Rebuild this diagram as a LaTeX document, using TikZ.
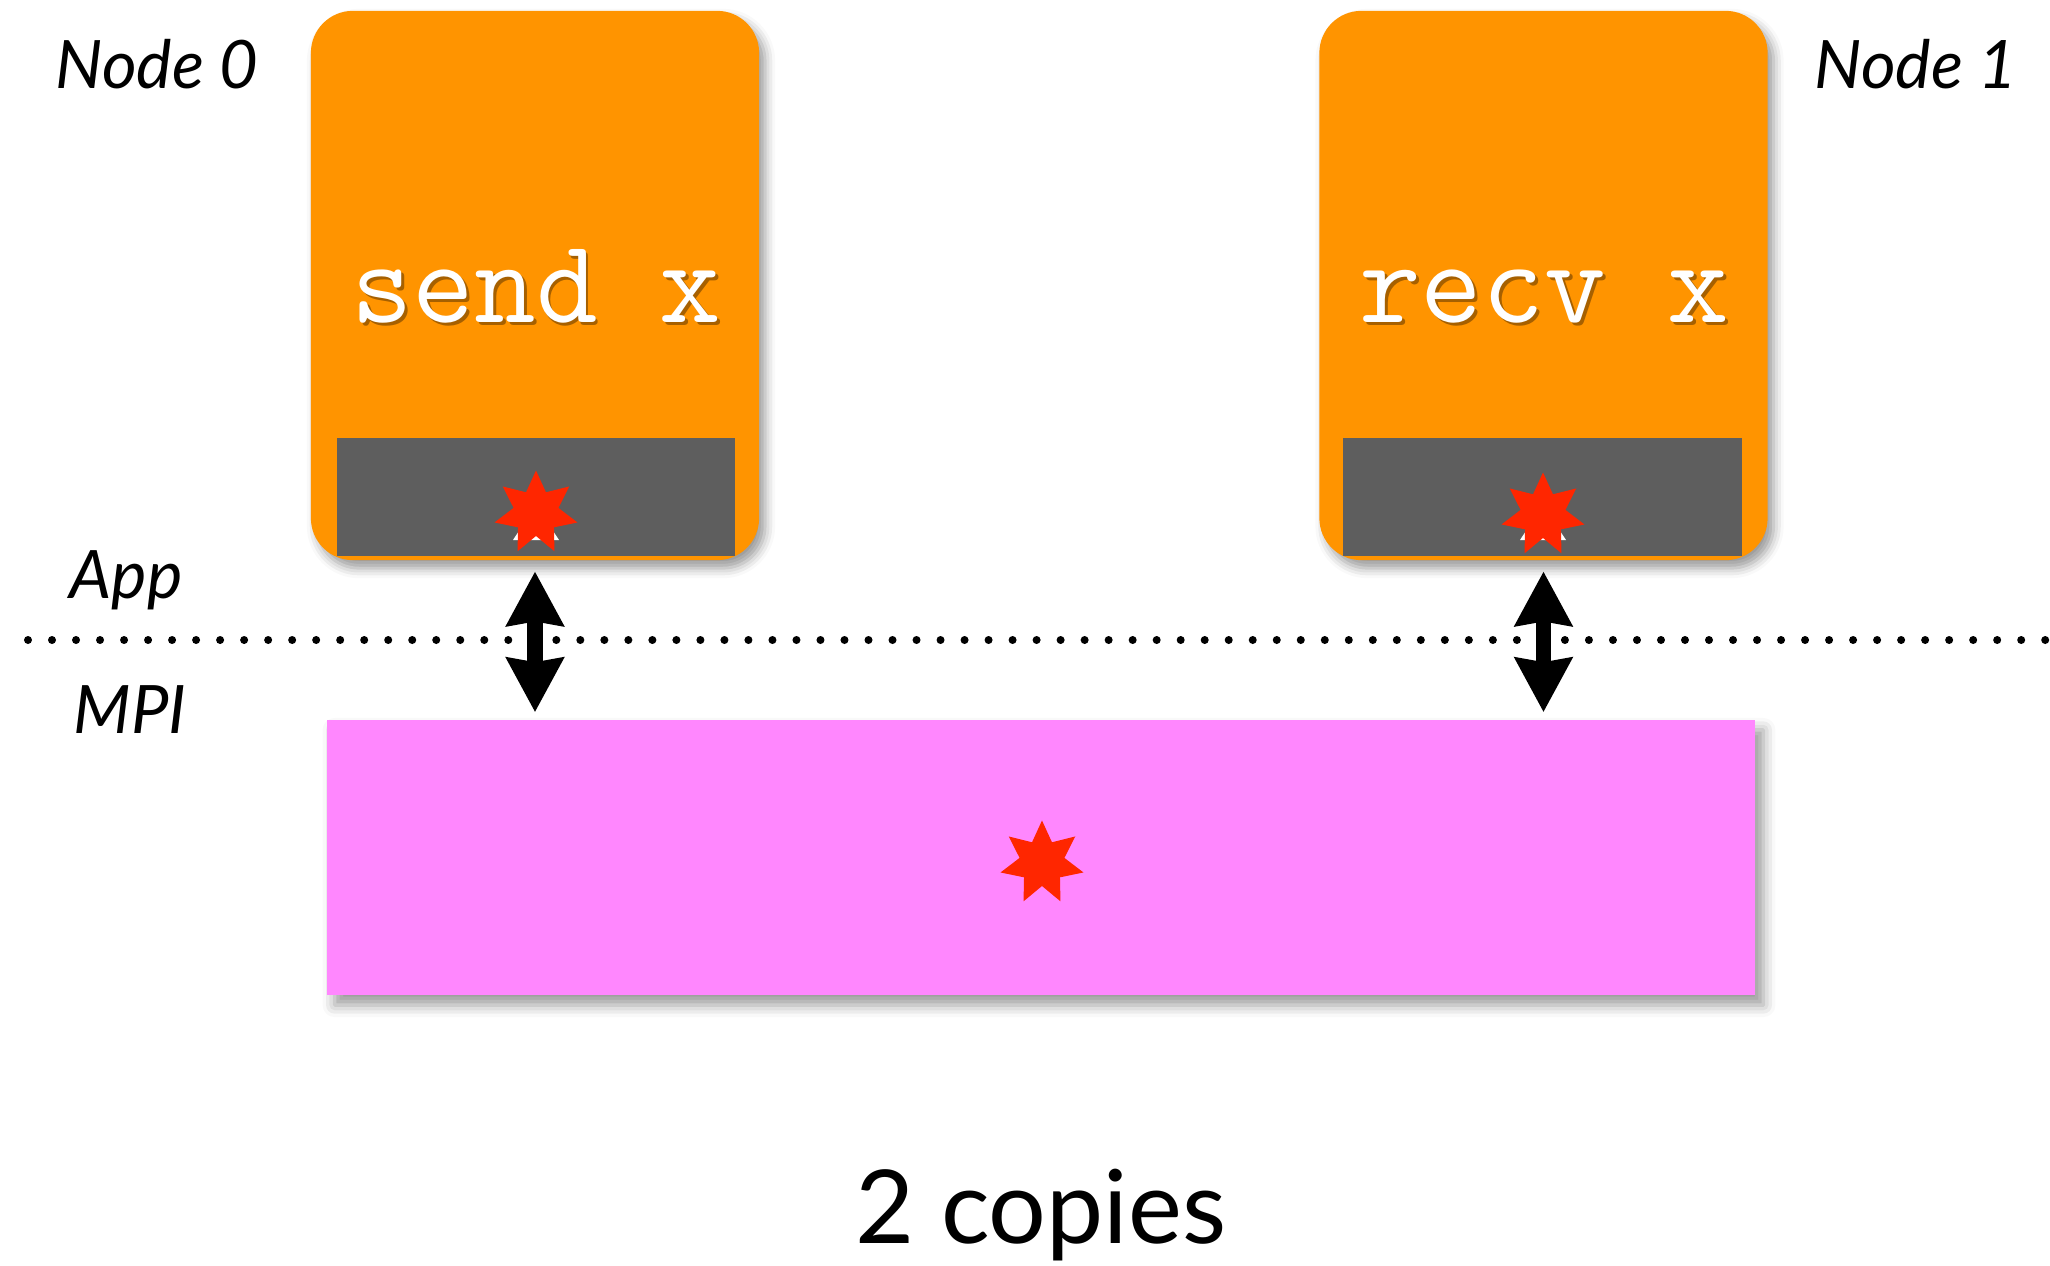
\documentclass[tikz,border=0pt]{standalone}
\usepackage{fontspec}
\setmainfont{Lato}
\usetikzlibrary{shapes.geometric,arrows.meta,shadows.blur}

\definecolor{procorange}{HTML}{FF9400}
\definecolor{bufgray}{HTML}{5E5E5E}
\definecolor{mpipink}{HTML}{FF87FE}
\definecolor{starred}{HTML}{FF2600}

\tikzset{
  procbox/.style={draw=none, fill=procorange, rounded corners=0.42cm,
    minimum width=4.48cm, minimum height=5.49cm, inner sep=0pt,
    blur shadow={shadow xshift=0.6mm, shadow yshift=-0.8mm,
      shadow blur radius=1mm, shadow opacity=40}},
  bufbox/.style={draw=none, fill=bufgray, minimum width=3.98cm,
    minimum height=1.18cm, inner sep=0pt},
  mpibox/.style={draw=none, fill=mpipink, minimum width=14.28cm,
    minimum height=2.75cm, inner sep=0pt,
    blur shadow={shadow xshift=0.8mm, shadow yshift=-1mm,
      shadow blur radius=1.2mm, shadow opacity=40}},
  datastar/.style={star, star points=7, star point ratio=1.85,
    fill=starred, draw=none, minimum size=0.85cm, inner sep=0pt},
  codetext/.style={text=white, font=\ttfamily\fontsize{34}{40}\selectfont,
    inner sep=0pt, anchor=base},
  codeshade/.style={text=black, opacity=0.35,
    font=\ttfamily\fontsize{34}{40}\selectfont, inner sep=0pt, anchor=base},
  nodelabel/.style={font=\itshape\fontsize{19}{23}\selectfont,
    inner sep=0pt, anchor=base},
  xfer/.style={line width=0.15cm,
    {Stealth[length=5.4mm,width=5.6mm,inset=0.4mm]}-{Stealth[length=5.4mm,width=5.6mm,inset=0.4mm]}},
  layerline/.style={line width=0.08cm, line cap=round,
    dash pattern=on 0pt off 0.24cm},
  hiddentip/.style={fill=white, draw=none}
}

\begin{document}
\begin{tikzpicture}[x=0.01cm, y=-0.01cm]
  \useasboundingbox (0,0) rectangle (2050,1266);

  % process boxes with their send / receive buffers
  \node[procbox] (p0) at (535,285.5) {};
  \node[procbox] (p1) at (1543.5,285.5) {};
  \node[bufbox] (b0) at (536,497) {};
  \node[bufbox] (b1) at (1542.5,497) {};

  % application calls
  \node[codeshade] (s0sh) at (539,325) {send x};
  \node[codetext] (s0) at (536,322) {send x};
  \node[codeshade] (s1sh) at (1547,325) {recv x};
  \node[codetext] (s1) at (1544,322) {recv x};

  % MPI library buffer
  \node[mpibox] (mpi) at (1041,857.5) {};

  % small white tips peeking out under the buffer stars
  \fill[hiddentip] (513,540) -- (536,505) -- (559,540) -- cycle;
  \fill[hiddentip] (1520,540) -- (1543,505) -- (1566,540) -- cycle;

  % data copies
  \node[datastar] (d0) at (536,513) {};
  \node[datastar] (d1) at (1543,515) {};
  \node[datastar] (dm) at (1042,863) {};

  % boundary between application and MPI
  \coordinate (lineL) at (28,640);
  \coordinate (lineR) at (2050,640);
  \draw[layerline] (lineL) -- (lineR);

  % copies between layers
  \draw[xfer, shorten <=3pt, shorten >=0.07cm] (p0.south) -- (p0.south |- mpi.north);
  \draw[xfer, shorten <=3pt, shorten >=0.07cm] (p1.south) -- (p1.south |- mpi.north);

  % labels
  \node[nodelabel] (n0) at (157,88) {Node 0};
  \node[nodelabel] (n1) at (1916,88) {Node 1};
  \node[nodelabel] (app) at (126,598) {App};
  \node[nodelabel] (lib) at (130,733) {MPI};
  \node[inner sep=0pt, anchor=base, font=\fontsize{29}{35}\selectfont]
    (caption) at (1041,1243) {2 copies};
\end{tikzpicture}
\end{document}
